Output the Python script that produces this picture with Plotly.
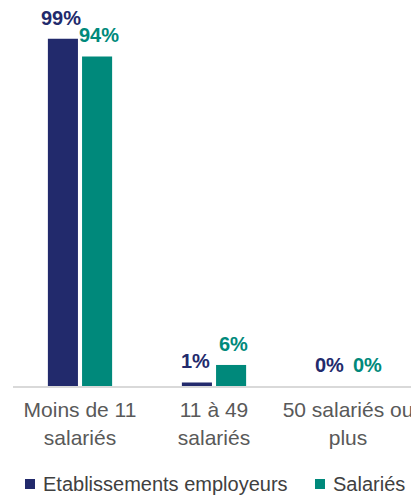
import plotly.graph_objects as go

categories = ["Moins de 11<br>salariés", "11 à 49<br>salariés", "50 salariés ou<br>plus"]
etablissements = [99, 1, 0]
salaries = [94, 6, 0]
series_names = ["Etablissements employeurs", "Salariés"]
colors = ["#222a6c", "#00897b"]

FONT = "Liberation Sans, Arial, sans-serif"

# figure is offset by the page's 8px body margin, so size it to fit the window
W, H = 411, 488
ML, MR, MT, MB = 5, 4, 0, 110
PW, PH = W - ML - MR, H - MT - MB

fig = go.Figure()
for name, vals, col in zip(series_names, [etablissements, salaries], colors):
    fig.add_trace(go.Bar(x=categories, y=vals, name=name, marker_color=col,
                         marker_line_width=0, showlegend=False))

annotations = []
for i, (vals, col) in enumerate(zip([etablissements, salaries], colors)):
    shift = -19 if i == 0 else 19
    for c, v in zip(categories, vals):
        annotations.append(dict(x=c, y=v, xref="x", yref="y", text=f"{v}%",
                                showarrow=False, xshift=shift, yshift=9,
                                yanchor="bottom", borderpad=0,
                                font=dict(family=FONT, size=20, color=col, weight="bold")))

# manual legend (square + label per series)
legend_sq_x = [17, 307]  # figure px, left edge of square
shapes = []
ly = 476
for sx, name, col in zip(legend_sq_x, series_names, colors):
    shapes.append(dict(type="rect", xref="paper", yref="paper",
                       x0=(sx - ML) / PW, x1=(sx + 10 - ML) / PW,
                       y0=1 - (ly + 5) / PH, y1=1 - (ly - 5) / PH,
                       fillcolor=col, line_width=0))
    annotations.append(dict(x=(sx + 17 - ML) / PW, y=1 - H / PH, xref="paper", yref="paper",
                            text=name, showarrow=False, xanchor="left", yanchor="bottom",
                            borderpad=0,
                            font=dict(family=FONT, size=20, color="#404040")))

fig.update_layout(
    width=W, height=H,
    margin=dict(l=ML, r=MR, t=MT, b=MB),
    paper_bgcolor="white", plot_bgcolor="white",
    barmode="group", bargap=0.49, bargroupgap=0.12,
    font=dict(family=FONT, size=21, color="#595959"),
    showlegend=False,
    annotations=annotations,
    shapes=shapes,
    xaxis=dict(showline=True, linecolor="#d9d9d9", linewidth=2, ticks="",
               tickfont=dict(family=FONT, size=21, color="#595959"),
               ticklabelstandoff=4, showgrid=False, fixedrange=True),
    yaxis=dict(range=[0, 107.8], visible=False, showgrid=False, fixedrange=True),
)

fig.write_html("out.html", config={"displayModeBar": False})
